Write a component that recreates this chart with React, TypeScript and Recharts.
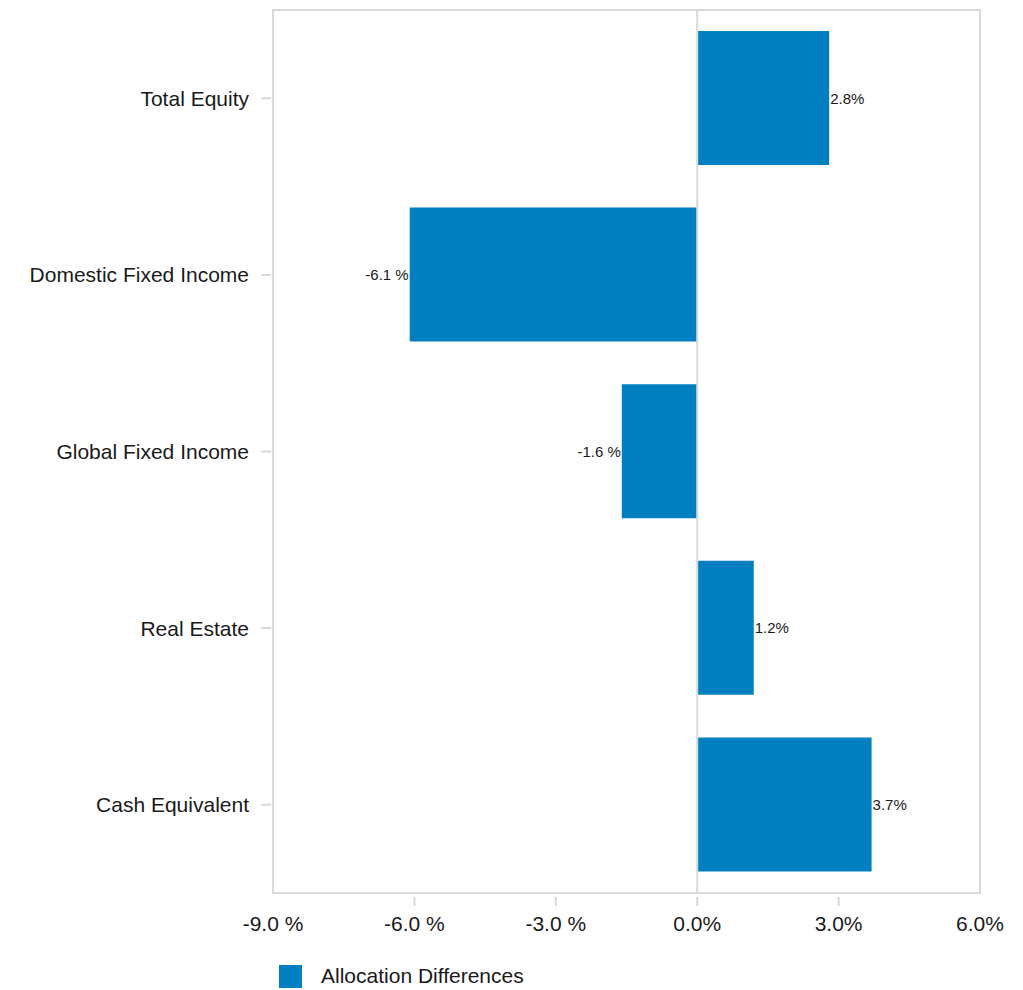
import {
  Bar,
  BarChart,
  LabelList,
  Legend,
  ReferenceArea,
  ReferenceLine,
  XAxis,
  YAxis,
} from "recharts";

const categories = [
  "Total Equity",
  "Domestic Fixed Income",
  "Global Fixed Income",
  "Real Estate",
  "Cash Equivalent",
];
const differences = [2.8, -6.1, -1.6, 1.2, 3.7];
const xTicks = [-9, -6, -3, 0, 3, 6];
const seriesName = "Allocation Differences";

const data = categories.map((name, i) => ({ name, value: differences[i] }));

const BAR = "#0080c1";
const GRID = "#d9d9d9";
const TEXT = "#1a1a1a";
const FONT = "'Liberation Sans', Arial, sans-serif";

// negatives carry a space before the % sign, positives don't
const fmt = (v: number) => (v < 0 ? `${v.toFixed(1)} %` : `${v.toFixed(1)}%`);

function XTick({ x, y, payload }: any) {
  const v = payload.value as number;
  const edge = v === xTicks[0] || v === xTicks[xTicks.length - 1];
  return (
    <g>
      {!edge && <line x1={x} x2={x} y1={y + 4} y2={y + 13} stroke={GRID} strokeWidth={2} />}
      <text x={x} y={y + 38} textAnchor="middle" fontSize={21} fill={TEXT}>
        {fmt(v)}
      </text>
    </g>
  );
}

function YTick({ x, y, payload }: any) {
  return (
    <g>
      <line x1={x - 12} x2={x - 2} y1={y} y2={y} stroke={GRID} strokeWidth={2} />
      <text x={x - 24} y={y} textAnchor="end" dominantBaseline="central" fontSize={21} fill={TEXT}>
        {payload.value}
      </text>
    </g>
  );
}

function BarLabel({ x, y, width, height, value }: any) {
  const left = Math.min(x, x + width);
  const right = Math.max(x, x + width);
  const neg = value < 0;
  return (
    <text
      x={neg ? left - 1 : right + 1}
      y={y + height / 2}
      textAnchor={neg ? "end" : "start"}
      dominantBaseline="central"
      fontSize={15}
      fill={TEXT}
    >
      {fmt(value)}
    </text>
  );
}

function LegendBox() {
  return (
    <div
      style={{
        height: 40,
        display: "flex",
        alignItems: "flex-end",
        paddingBottom: 2,
        boxSizing: "border-box",
        fontFamily: FONT,
        fontSize: 21,
        color: TEXT,
      }}
    >
      <div style={{ display: "flex", alignItems: "center" }}>
        <span style={{ width: 23, height: 23, background: BAR, marginRight: 19, display: "inline-block" }} />
        <span>{seriesName}</span>
      </div>
    </div>
  );
}

export default function App() {
  return (
    <div style={{ position: "absolute", left: 0, top: 0, fontFamily: FONT }}>
      <BarChart
        width={1023}
        height={990}
        data={data}
        layout="vertical"
        margin={{ top: 10, right: 43, bottom: 0, left: 0 }}
      >
        <ReferenceArea x1={-9} x2={6} fill="none" stroke={GRID} strokeWidth={2} />
        <ReferenceLine x={0} stroke={GRID} strokeWidth={2} />
        <XAxis
          type="number"
          domain={[-9, 6]}
          ticks={xTicks}
          interval={0}
          height={57}
          axisLine={false}
          tickLine={false}
          tickSize={0}
          tickMargin={0}
          tick={<XTick />}
        />
        <YAxis
          type="category"
          dataKey="name"
          width={273}
          axisLine={false}
          tickLine={false}
          tickSize={0}
          tickMargin={0}
          tick={<YTick />}
        />
        <Legend
          verticalAlign="bottom"
          align="left"
          wrapperStyle={{ left: 279, width: 400 }}
          content={() => <LegendBox />}
        />
        <Bar dataKey="value" name={seriesName} fill={BAR} barSize={134} isAnimationActive={false}>
          <LabelList dataKey="value" content={<BarLabel />} />
        </Bar>
      </BarChart>
    </div>
  );
}
